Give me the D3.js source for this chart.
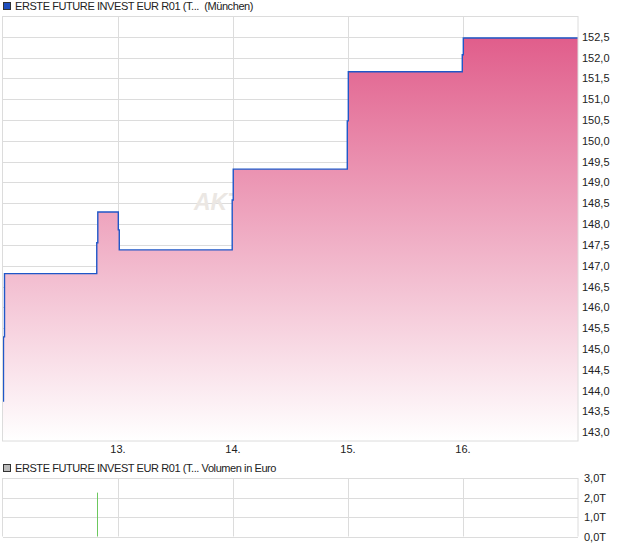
<!DOCTYPE html>
<html>
<head>
<meta charset="utf-8">
<script src="https://cdn.jsdelivr.net/npm/d3@7"></script>
<style>
  html, body { margin: 0; padding: 0; background: #fff; }
  svg { display: block; font-family: "Liberation Sans", Arial, sans-serif; }
</style>
</head>
<body>
<svg id="chart" width="620" height="546"></svg>
<script>
// ---- Data ----
const priceTimes = [
  "2024-05-12 00:00", "2024-05-12 00:06", "2024-05-12 00:19",
  "2024-05-12 19:34", "2024-05-12 19:47",
  "2024-05-13 00:04", "2024-05-13 00:16",
  "2024-05-13 23:50", "2024-05-14 00:03",
  "2024-05-14 23:51", "2024-05-15 00:04",
  "2024-05-15 23:51", "2024-05-16 00:04",
  "2024-05-17 00:00"
];
const priceValues = [
  143.75, 145.29, 146.81,
  147.55, 148.29,
  147.86, 147.38,
  148.58, 149.32,
  150.48, 151.66,
  152.07, 152.47,
  152.47
];
const volumeTimes = ["2024-05-12 19:34"];
const volumeValues = [2250];

const priceTicks = [143.0, 143.5, 144.0, 144.5, 145.0, 145.5, 146.0, 146.5, 147.0,
  147.5, 148.0, 148.5, 149.0, 149.5, 150.0, 150.5, 151.0, 151.5, 152.0, 152.5];
const volumeTicks = [0, 1000, 2000, 3000];
const dayTicks = ["2024-05-13 00:00", "2024-05-14 00:00", "2024-05-15 00:00", "2024-05-16 00:00"];

const priceLegend = "ERSTE FUTURE INVEST EUR R01 (T...  (München)";
const volumeLegend = "ERSTE FUTURE INVEST EUR R01 (T... Volumen in Euro";
const watermark = "AKTIENCHECK";

// ---- Setup ----
const parse = d3.timeParse("%Y-%m-%d %H:%M");
const svg = d3.select("#chart");
const grid = "#dcdcdc";
const left = 3, right = 578;
const main = { top: 16, bottom: 440.5 };
const vol = { top: 478, bottom: 536.5 };

const prices = priceTimes.map((t, i) => ({ t: parse(t), v: priceValues[i] }));
const volumes = volumeTimes.map((t, i) => ({ t: parse(t), v: volumeValues[i] }));

const x = d3.scaleTime()
  .domain([parse("2024-05-12 00:00"), parse("2024-05-17 00:00")])
  .range([left, right]);
const y = d3.scaleLinear().domain([142.8, 153.0]).range([main.bottom, main.top]);
const yv = d3.scaleLinear().domain([0, 3000]).range([vol.bottom, vol.top]);

const fmt = v => d3.format(".1f")(v).replace(".", ",");
const fmtVol = v => d3.format(".1f")(v / 1000).replace(".", ",") + "T";
const days = dayTicks.map(parse);

// ---- Legend (price) ----
svg.append("rect").attr("x", 3.5).attr("y", 2.5).attr("width", 7).attr("height", 7)
  .attr("fill", "#1f4fbf").attr("stroke", "#333").attr("stroke-width", 1);
svg.append("text").attr("x", 15).attr("y", 10).style("font-size", "11px")
  .style("letter-spacing", "-0.42px")
  .attr("fill", "#222").attr("xml:space", "preserve").text(priceLegend);

// ---- Main panel grid ----
const gMain = svg.append("g");
gMain.selectAll(".hgrid").data(priceTicks).join("line")
  .attr("x1", left).attr("x2", right)
  .attr("y1", d => Math.round(y(d)) + 0.5).attr("y2", d => Math.round(y(d)) + 0.5)
  .attr("stroke", grid);
gMain.selectAll(".vgrid").data(days).join("line")
  .attr("x1", d => Math.round(x(d)) + 0.5).attr("x2", d => Math.round(x(d)) + 0.5)
  .attr("y1", main.top).attr("y2", main.bottom)
  .attr("stroke", grid);

// watermark (mostly hidden behind the area)
gMain.append("text")
  .attr("x", 194).attr("y", 210)
  .style("font-size", "23px").style("font-weight", "700").style("font-style", "italic")
  .attr("fill", "#ebe7e3").text(watermark);

// ---- Area + line ----
const defs = svg.append("defs");
const grad = defs.append("linearGradient").attr("id", "fillGrad")
  .attr("gradientUnits", "userSpaceOnUse")
  .attr("x1", 0).attr("x2", 0).attr("y1", main.top).attr("y2", main.bottom);
grad.append("stop").attr("offset", "0%").attr("stop-color", "#df5585");
grad.append("stop").attr("offset", "100%").attr("stop-color", "#ffffff");

const area = d3.area().curve(d3.curveStepAfter)
  .x(d => x(d.t)).y0(main.bottom).y1(d => y(d.v));
const line = d3.line().curve(d3.curveStepAfter)
  .x(d => x(d.t)).y(d => y(d.v));

gMain.append("path").datum(prices).attr("d", area).attr("fill", "url(#fillGrad)");
gMain.append("path").datum(prices).attr("d", line)
  .attr("fill", "none").attr("stroke", "#1f57c8").attr("stroke-width", 1.4);

// frame
gMain.append("rect").attr("x", left - 0.5).attr("y", main.top + 0.5)
  .attr("width", right - left + 0.5).attr("height", main.bottom - main.top)
  .attr("fill", "none").attr("stroke", grid);

// ---- Axes labels (main) ----
svg.append("g").selectAll("text").data(priceTicks).join("text")
  .attr("x", 582).attr("y", d => y(d) + 4)
  .style("font-size", "11px").attr("fill", "#222").text(fmt);
svg.append("g").selectAll("text").data(days).join("text")
  .attr("x", d => x(d)).attr("y", 453).attr("text-anchor", "middle")
  .style("font-size", "11px").attr("fill", "#222").text(d3.timeFormat("%-d."));

// ---- Legend (volume) ----
svg.append("rect").attr("x", 3.5).attr("y", 464.5).attr("width", 7).attr("height", 7)
  .attr("fill", "#bbb").attr("stroke", "#333").attr("stroke-width", 1);
svg.append("text").attr("x", 15).attr("y", 472).style("font-size", "11px")
  .style("letter-spacing", "-0.42px")
  .attr("fill", "#222").text(volumeLegend);

// ---- Volume panel ----
const gVol = svg.append("g");
gVol.selectAll(".hgrid").data(volumeTicks).join("line")
  .attr("x1", left).attr("x2", right)
  .attr("y1", d => Math.round(yv(d)) + 0.5).attr("y2", d => Math.round(yv(d)) + 0.5)
  .attr("stroke", grid);
gVol.selectAll(".vgrid").data(days).join("line")
  .attr("x1", d => Math.round(x(d)) + 0.5).attr("x2", d => Math.round(x(d)) + 0.5)
  .attr("y1", vol.top).attr("y2", vol.bottom)
  .attr("stroke", grid);
gVol.append("line").attr("x1", left - 0.5).attr("x2", left - 0.5)
  .attr("y1", vol.top).attr("y2", vol.bottom).attr("stroke", grid);
gVol.append("line").attr("x1", right).attr("x2", right)
  .attr("y1", vol.top).attr("y2", vol.bottom).attr("stroke", grid);

gVol.selectAll(".bar").data(volumes).join("rect")
  .attr("x", d => Math.round(x(d.t)))
  .attr("width", 1)
  .attr("y", d => yv(d.v)).attr("height", d => vol.bottom - yv(d.v))
  .attr("fill", "#6cc85e");

svg.append("g").selectAll("text").data(volumeTicks).join("text")
  .attr("x", 584).attr("y", d => yv(d) + 4)
  .style("font-size", "11px").attr("fill", "#222").text(fmtVol);
</script>
</body>
</html>
